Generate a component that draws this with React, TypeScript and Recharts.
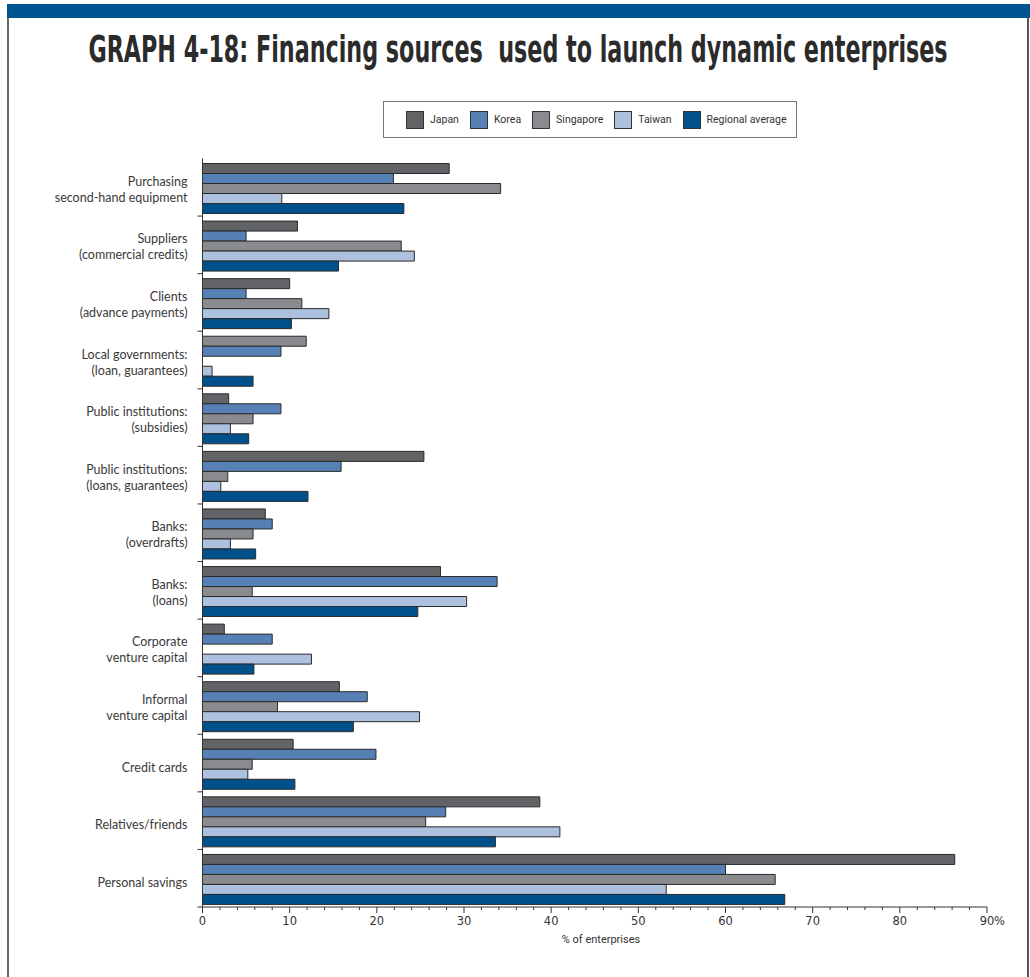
import React, { useLayoutEffect, useRef, useState } from "react";
import { BarChart, Bar, XAxis, YAxis, Cell } from "recharts";

// financing sources, top to bottom
const categories = [
  "Purchasing\nsecond-hand equipment",
  "Suppliers\n(commercial credits)",
  "Clients\n(advance payments)",
  "Local governments:\n(loan, guarantees)",
  "Public institutions:\n(subsidies)",
  "Public institutions:\n(loans, guarantees)",
  "Banks:\n(overdrafts)",
  "Banks:\n(loans)",
  "Corporate\nventure capital",
  "Informal\nventure capital",
  "Credit cards",
  "Relatives/friends",
  "Personal savings"
];

// % of enterprises
const japan = [28.3, 10.9, 10.0, 11.9, 3.0, 25.4, 7.2, 27.3, 2.5, 15.7, 10.4, 38.7, 86.3];
const korea = [21.9, 5.0, 5.0, 9.0, 9.0, 15.9, 8.0, 33.8, 8.0, 18.9, 19.9, 27.9, 60.0];
const singapore = [34.2, 22.8, 11.4, 0, 5.8, 2.9, 5.8, 5.7, 0, 8.6, 5.7, 25.6, 65.7];
const taiwan = [9.1, 24.3, 14.5, 1.1, 3.2, 2.1, 3.2, 30.3, 12.5, 24.9, 5.2, 41.0, 53.2];
const regional = [23.1, 15.6, 10.2, 5.8, 5.3, 12.1, 6.1, 24.7, 5.9, 17.3, 10.6, 33.6, 66.8];

const xMajorTicks = [0, 10, 20, 30, 40, 50, 60, 70, 80, 90];
const xMinorStep = 2;

const series = [
  { key: "japan", name: "Japan", values: japan, color: "#626366" },
  { key: "korea", name: "Korea", values: korea, color: "#5781b4" },
  { key: "singapore", name: "Singapore", values: singapore, color: "#8a8b8e" },
  { key: "taiwan", name: "Taiwan", values: taiwan, color: "#adc0de" },
  { key: "regional", name: "Regional average", values: regional, color: "#00518b" }
];

// in the original the Japan bar of this group is printed in the Singapore grey
const oddJapanRow = 3;

const title = "GRAPH 4-18: Financing sources  used to launch dynamic enterprises";

const rows = categories.map((name, i) => {
  const r: any = { name };
  series.forEach((s) => (r[s.key] = s.values[i]));
  return r;
});

const allTicks: number[] = [];
for (let v = 0; v <= 90; v += xMinorStep) allTicks.push(v);

const W = 1030;
const H = 977;
const margin = { top: 158.5, right: 43, bottom: 20, left: 0 };
const xAxisH = 50;
const yAxisW = 202.5;
const plotH = H - margin.top - margin.bottom - xAxisH;
const band = plotH / categories.length;

const labelFont = "Lato, 'Noto Sans', sans-serif";
const narrowFont = "'DejaVu Sans', sans-serif";
const legendFont = "Roboto, 'Liberation Sans', sans-serif";

function XTick(props: any) {
  const { x, y, payload } = props;
  const v = payload.value;
  const major = xMajorTicks.includes(v);
  return (
    <g>
      <line x1={x} x2={x} y1={y} y2={y + (major ? 6 : 3)} stroke="#333" />
      {major && (
        <text x={x} y={y + 18} textAnchor="middle" fontSize={11.5} fill="#333" fontFamily={narrowFont}>
          {v}
        </text>
      )}
      {v === 90 && (
        <text x={x + 7} y={y + 18} textAnchor="start" fontSize={11.5} fill="#333" fontFamily={narrowFont}>
          %
        </text>
      )}
    </g>
  );
}

function YTick(props: any) {
  const { x, y, payload } = props;
  const lines = String(payload.value).split("\n");
  const start = lines.length === 1 ? 8.5 : -1.5;
  return (
    <g>
      <line x1={x - 5} x2={x} y1={y + band / 2} y2={y + band / 2} stroke="#333" />
      {lines.map((t, i) => (
        <text key={i} x={x - 15} y={y + start + i * 16} textAnchor="end" fontSize={12.5} fill="#3a3a3a" fontFamily={labelFont}>
          {t}
        </text>
      ))}
    </g>
  );
}

function Title() {
  const ref = useRef<HTMLSpanElement>(null);
  const [k, setK] = useState(0.66);
  useLayoutEffect(() => {
    if (ref.current && ref.current.offsetWidth > 0) setK(859 / ref.current.offsetWidth);
  }, []);
  return (
    <div style={{ position: "absolute", left: 517.5, top: 27, width: 0, height: 50 }}>
      <span
        ref={ref}
        style={{
          position: "absolute",
          left: 0,
          top: 0,
          whiteSpace: "pre",
          fontFamily: narrowFont,
          fontWeight: 700,
          fontSize: 38,
          color: "#2b2b2b",
          transform: `translateX(-50%) scaleX(${k})`,
          transformOrigin: "center"
        }}
      >
        {title}
      </span>
    </div>
  );
}

export default function App() {
  return (
    <div style={{ position: "absolute", left: 0, top: 0, width: W, height: H, background: "#fff", overflow: "hidden" }}>
      <div style={{ position: "absolute", left: 7, top: 4, width: W - 7, height: 14, background: "#00548f" }} />
      <div style={{ position: "absolute", left: 7, top: 18, width: 1018, height: H, borderLeft: "2px solid #666", borderRight: "2px solid #555" }} />

      <Title />

      <div
        style={{
          position: "absolute",
          left: 383,
          top: 101,
          width: 414,
          height: 37,
          border: "1.5px solid #777",
          display: "flex",
          alignItems: "center",
          boxSizing: "border-box",
          paddingLeft: 22,
          fontFamily: legendFont,
          fontSize: 10.5,
          color: "#333",
          whiteSpace: "nowrap"
        }}
      >
        {series.map((s) => (
          <div key={s.key} style={{ display: "flex", alignItems: "center", marginRight: 11 }}>
            <div style={{ width: 18, height: 18, background: s.color, border: "1px solid #333", boxSizing: "border-box", marginRight: 6 }} />
            <span>{s.name}</span>
          </div>
        ))}
      </div>

      <div style={{ position: "absolute", left: 0, top: 0 }}>
        <BarChart layout="vertical" width={W} height={H} data={rows} margin={margin} barCategoryGap={5} barGap={0}>
          <XAxis
            type="number"
            domain={[0, 90]}
            ticks={allTicks}
            interval={0}
            tick={<XTick />}
            tickLine={false}
            tickSize={0}
            tickMargin={0}
            height={xAxisH}
            axisLine={{ stroke: "#333" }}
          />
          <XAxis
            xAxisId="top"
            orientation="top"
            type="number"
            domain={[0, 90]}
            tick={false}
            tickLine={false}
            height={0}
            axisLine={{ stroke: "#8c8c8c", strokeWidth: 1.5 }}
          />
          <YAxis
            type="category"
            dataKey="name"
            width={yAxisW}
            interval={0}
            tick={<YTick />}
            tickLine={false}
            tickSize={0}
            tickMargin={0}
            axisLine={{ stroke: "#333" }}
          />
          <YAxis
            yAxisId="right"
            orientation="right"
            type="category"
            dataKey="name"
            width={0}
            tick={false}
            tickLine={false}
            axisLine={{ stroke: "#8c8c8c", strokeWidth: 1.5 }}
          />
          {series.map((s) => (
            <Bar key={s.key} dataKey={s.key} fill={s.color} stroke="#2a2a2a" strokeWidth={1} isAnimationActive={false}>
              {rows.map((_, i) => (
                <Cell key={i} fill={s.key === "japan" && i === oddJapanRow ? series[2].color : s.color} />
              ))}
            </Bar>
          ))}
        </BarChart>
      </div>

      <div style={{ position: "absolute", left: 501, width: 200, top: 933, textAlign: "center", fontFamily: legendFont, fontSize: 11, color: "#333" }}>
        % of enterprises
      </div>
    </div>
  );
}
